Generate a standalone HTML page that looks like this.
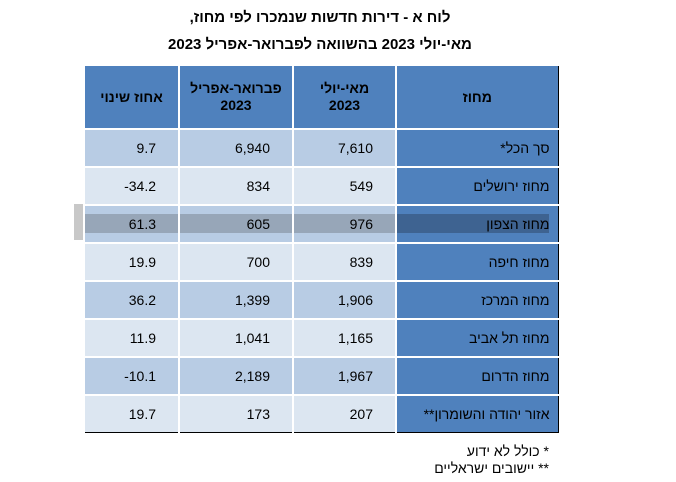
<!DOCTYPE html>
<html><head><meta charset="utf-8"><style>
body{margin:0;width:676px;height:482px;background:#fff;position:relative;overflow:hidden;font-family:"Liberation Sans","Noto Sans CJK SC",sans-serif;}
.t{position:absolute;left:0;width:640px;text-align:center;font-weight:bold;font-size:15px;color:#000;direction:rtl}
table{position:absolute;left:83px;top:64px;border-collapse:collapse;border:1.5px solid #000;direction:ltr;table-layout:fixed}
td{padding:0;font-size:14px;color:#000;border-left:2px solid #fff;border-top:2px solid #fff;}
td.n{text-align:right;padding-right:22px}
td.name{background:#4f81bd;text-align:right;padding-right:8px;direction:rtl}
tr.h td{background:#4f81bd;font-weight:bold;text-align:center;height:62px;line-height:17px;direction:rtl}
tr.a td.n{background:#b8cce4}
tr.b td.n{background:#dce6f1}
tr.r td{height:36px}
.fn{position:absolute;right:127px;font-size:14px;direction:rtl;text-align:right}
</style></head><body>
<div class="t" style="top:9px">לוח א - דירות חדשות שנמכרו לפי מחוז,</div>
<div class="t" style="top:36px">מאי-יולי 2023 בהשוואה לפברואר-אפריל 2023</div>
<div style="position:absolute;left:74px;top:204px;width:9px;height:36px;background:#c8c8c8"></div>
<table>
<colgroup><col style="width:95px"><col style="width:114px"><col style="width:103px"><col style="width:162px"></colgroup>
<tr class="h"><td>אחוז שינוי</td><td>פברואר-אפריל<br>2023</td><td>מאי-יולי<br>2023</td><td>מחוז</td></tr>
<tr class="r a"><td class="n">9.7</td><td class="n">6,940</td><td class="n">7,610</td><td class="name">סך הכל*</td></tr>
<tr class="r b"><td class="n">-34.2</td><td class="n">834</td><td class="n">549</td><td class="name">מחוז ירושלים</td></tr>
<tr class="r a"><td class="n" style="background:linear-gradient(#b8cce4 0 8px,#97a6b8 8px 27px,#b8cce4 27px)">61.3</td><td class="n" style="background:linear-gradient(#b8cce4 0 8px,#97a6b8 8px 27px,#b8cce4 27px)">605</td><td class="n" style="background:linear-gradient(#b8cce4 0 8px,#97a6b8 8px 27px,#b8cce4 27px)">976</td><td class="name" style="background:linear-gradient(90deg,#3e6391 0 152px,#4f81bd 152px);background-size:100% 19px;background-repeat:no-repeat;background-position:0 8px;background-color:#4f81bd">מחוז הצפון</td></tr>
<tr class="r b"><td class="n">19.9</td><td class="n">700</td><td class="n">839</td><td class="name">מחוז חיפה</td></tr>
<tr class="r a"><td class="n">36.2</td><td class="n">1,399</td><td class="n">1,906</td><td class="name">מחוז המרכז</td></tr>
<tr class="r b"><td class="n">11.9</td><td class="n">1,041</td><td class="n">1,165</td><td class="name">מחוז תל אביב</td></tr>
<tr class="r a"><td class="n">-10.1</td><td class="n">2,189</td><td class="n">1,967</td><td class="name">מחוז הדרום</td></tr>
<tr class="r b"><td class="n">19.7</td><td class="n">173</td><td class="n">207</td><td class="name">אזור יהודה והשומרון**</td></tr>
</table>
<div class="fn" style="top:443px">* כולל לא ידוע</div>
<div class="fn" style="top:460px">** יישובים ישראליים</div>
</body></html>
